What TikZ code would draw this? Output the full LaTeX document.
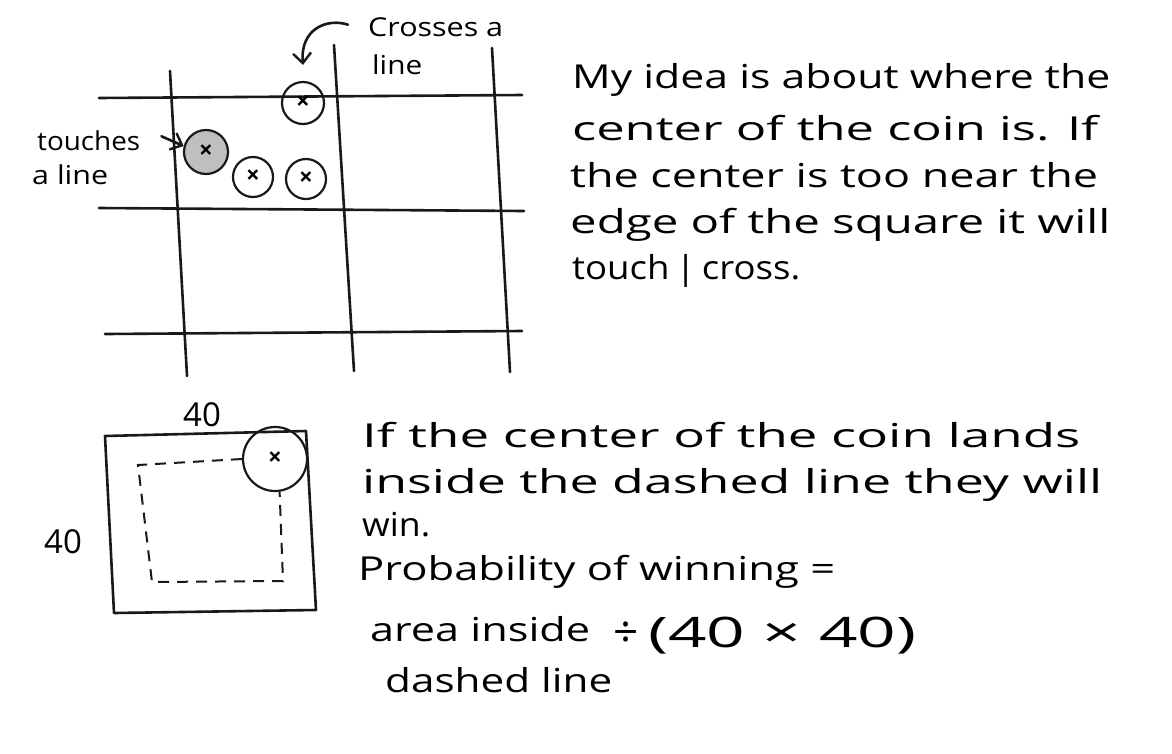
\documentclass[tikz,border=0pt]{standalone}
\usepackage{fontspec}
\setmainfont{Open Sans}
\usetikzlibrary{arrows.meta}
\newcommand\hwline[2]{\resizebox{#1pt}{\height}{#2}}
\begin{document}
\begin{tikzpicture}[x=1pt,y=-1pt,
  pen/.style={line width=2.6pt, line cap=round, line join=round, black!90},
  coin/.style={circle, draw=black!90, line width=2.2pt, inner sep=0pt, font=\fontsize{24}{24}\selectfont\bfseries},
  lbl/.style={font=\fontsize{26}{26}\selectfont, anchor=base west, inner sep=0pt},
  txt/.style={font=\fontsize{33}{33}\selectfont, anchor=base west, inner sep=0pt},
  dim/.style={font=\fontsize{33}{33}\selectfont, inner sep=0pt},
  dashline/.style={line width=2pt, dash pattern=on 11pt off 8pt, black!90},
  arr/.style={pen, -{Straight Barb[length=10pt,width=18pt,line width=2.4pt]}},
]
\useasboundingbox[fill=white] (0,0) rectangle (1172,753);

% ---------- grid ----------
\draw[pen] (99,98) -- (522,95);
\draw[pen] (99,208) -- (524,211);
\draw[pen] (105,334) -- (522,331);
\draw[pen] (170,71) -- (187,376);
\draw[pen] (334,45) -- (354,371);
\draw[pen] (492,48) -- (510,372);

% ---------- coins ----------
\node[coin, minimum size=42pt] (cx) at (303,103) {×};
\node[coin, fill=gray!50, minimum size=44pt] (ct) at (206,152) {×};
\node[coin, minimum size=40pt] (c2) at (253,177) {×};
\node[coin, minimum size=40pt] (c3) at (306,179) {×};

% ---------- labels ----------
\node[lbl] (tl1) at (37,150) {\hwline{103}{touches}};
\node[lbl] (tl2) at (32,184) {\hwline{76}{a line}};
\draw[arr] ([xshift=21pt,yshift=4pt]tl1.east) -- (ct.165);

\node[lbl] (cl1) at (368,36) {\hwline{135}{Crosses a}};
\node[lbl] (cl2) at (372,74) {\hwline{50}{line}};
\draw[arr] ([xshift=-20pt,yshift=2pt]cl1.west) .. controls (328,18) and (300,28) .. ([yshift=16pt]cx.north);

% ---------- top right text ----------
\node[txt] (t1) at (572,88)  {\hwline{538}{My idea is about where the}};
\node[txt] (t2) at (572,140) {\hwline{526}{center of the coin is. If}};
\node[txt] (t3) at (570,187) {\hwline{528}{the center is too near the}};
\node[txt] (t4) at (570,233) {\hwline{540}{edge of the square it will}};
\node[txt] (t5) at (572,279) {\hwline{228}{touch\,|\,cross.}};

% ---------- bottom square ----------
\draw[pen] (105,436) -- (306,431) -- (316,610) -- (114,613) -- cycle;
\node[coin, minimum size=64pt] (cb) at (275,459) {×};
\draw[dashline] (cb.west) -- (138,465) -- (152,582) -- (283,581) -- (cb.-82);
\node[dim] (w40) at (202,415) {40};
\node[dim] (h40) at (63,542) {40};

% ---------- bottom right text ----------
\node[txt] (b1) at (362,447) {\hwline{718}{If the center of the coin lands}};
\node[txt] (b2) at (362,493) {\hwline{740}{inside the dashed line they will}};
\node[txt] (b3) at (362,536) {\hwline{68}{win.}};
\node[txt] (b4) at (358,580) {\hwline{477}{Probability of winning =}};
\node[txt] (b5) at (370,641) {\hwline{220}{area inside}};
\node[txt] (b6) at (385,692) {\hwline{227}{dashed line}};
\node[txt, font=\fontsize{44}{44}\selectfont] (b7) at (613,647) {÷};
\node[txt, font=\fontsize{42}{42}\selectfont] (b8) at (648,647) {\hwline{268}{(40 × 40)}};
\end{tikzpicture}
\end{document}
